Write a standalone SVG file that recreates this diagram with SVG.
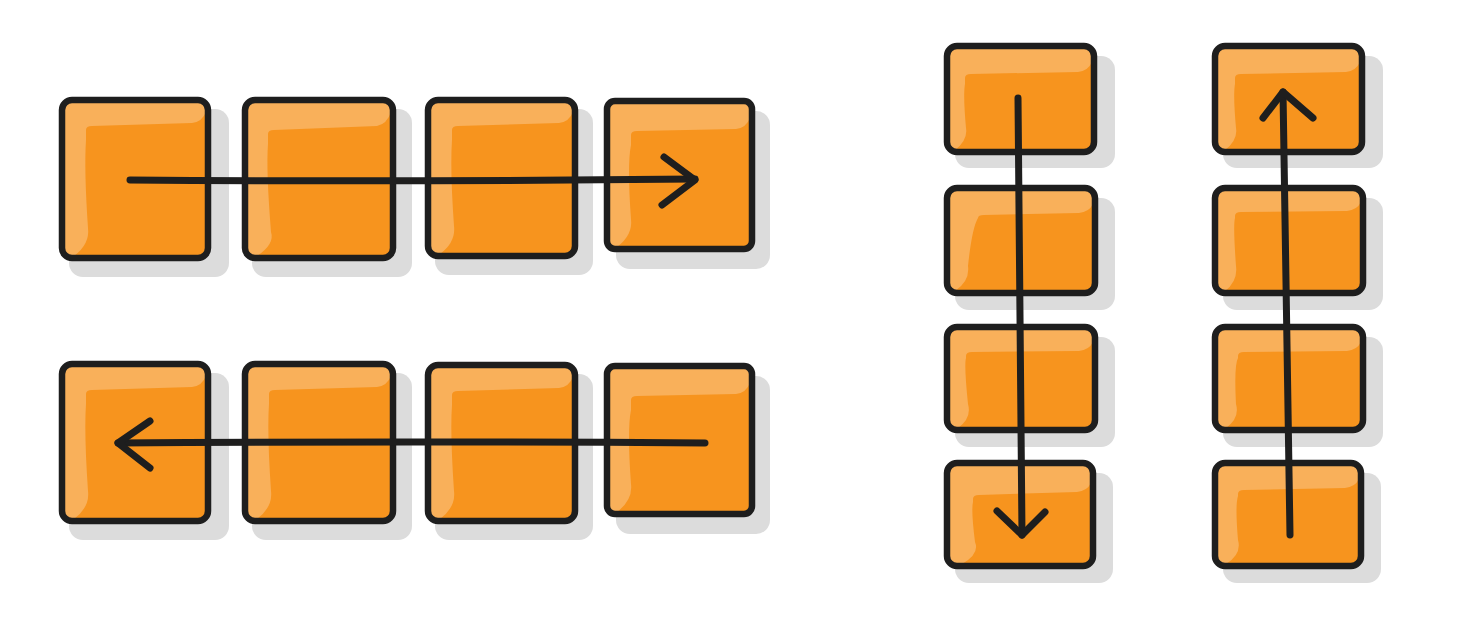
<svg xmlns="http://www.w3.org/2000/svg" width="1471" height="628" viewBox="0 0 1471 628">
<style>
.sh{fill:#dcdcdc}
.lt{fill:#f9b05a}
.dk{fill:#f7941e}
.ol{fill:none;stroke:#1e1e1e;stroke-width:6.5;stroke-linejoin:round}
.cn{fill:none;stroke:#1e1e1e;stroke-width:7;stroke-linecap:round;stroke-linejoin:round}
</style>
<rect width="1471" height="628" fill="#ffffff"/>
<!-- row 1 -->
<g id="r1b1"><rect class="sh" x="69" y="109" width="160" height="168" rx="14"/><rect class="lt" x="62" y="100" width="146" height="158" rx="10"/><path class="dk" d="M86,130 Q86,126 92,126 L192,123 Q202,122 206,112 L206,250 Q206,256 198,256 L74,256 Q90,244 88,228 Q84,170 86,140 Z"/><rect class="ol" x="62" y="100" width="146" height="158" rx="10"/></g>
<g id="r1b2"><rect class="sh" x="252" y="109" width="160" height="168" rx="14"/><rect class="lt" x="245" y="100" width="148" height="158" rx="10"/><path class="dk" d="M268,134 Q268,130 274,130 L377,126 Q387,124 391,112 L391,250 Q391,256 383,256 L257,256 Q275,244 271,232 Q266,170 268,144 Z"/><rect class="ol" x="245" y="100" width="148" height="158" rx="10"/></g>
<g id="r1b3"><rect class="sh" x="435" y="109" width="158" height="166" rx="14"/><rect class="lt" x="428" y="100" width="147" height="156" rx="10"/><path class="dk" d="M452,130 Q452,126 458,126 L559,123 Q569,122 573,112 L573,248 Q573,254 565,254 L440,254 Q456,242 454,226 Q450,170 452,140 Z"/><rect class="ol" x="428" y="100" width="147" height="156" rx="10"/></g>
<g id="r1b4"><rect class="sh" x="616" y="111" width="154" height="158" rx="14"/><rect class="lt" x="607" y="101" width="145" height="148" rx="8"/><path class="dk" d="M631,135 Q631,131 637,131 L736,129 Q746,128 750,118 L750,241 Q750,247 742,247 L617,247 Q633,235 631,219 Q627,165 631,145 Z"/><rect class="ol" x="607" y="101" width="145" height="148" rx="8"/></g>
<!-- row 2 -->
<g id="r2b1"><rect class="sh" x="69" y="373" width="160" height="167" rx="14"/><rect class="lt" x="62" y="364" width="146" height="157" rx="10"/><path class="dk" d="M86,394 Q86,390 92,390 L192,387 Q202,386 206,376 L206,513 Q206,519 198,519 L74,519 Q90,507 88,491 Q84,433 86,404 Z"/><rect class="ol" x="62" y="364" width="146" height="157" rx="10"/></g>
<g id="r2b2"><rect class="sh" x="252" y="373" width="160" height="167" rx="14"/><rect class="lt" x="245" y="364" width="148" height="157" rx="10"/><path class="dk" d="M269,394 Q269,390 275,390 L377,387 Q387,386 391,376 L391,513 Q391,519 383,519 L257,519 Q273,507 271,491 Q267,433 269,404 Z"/><rect class="ol" x="245" y="364" width="148" height="157" rx="10"/></g>
<g id="r2b3"><rect class="sh" x="435" y="374" width="158" height="166" rx="14"/><rect class="lt" x="428" y="365" width="147" height="156" rx="10"/><path class="dk" d="M452,395 Q452,391 458,391 L559,388 Q569,387 573,377 L573,513 Q573,519 565,519 L440,519 Q456,507 454,491 Q450,433 452,405 Z"/><rect class="ol" x="428" y="365" width="147" height="156" rx="10"/></g>
<g id="r2b4"><rect class="sh" x="616" y="376" width="154" height="158" rx="14"/><rect class="lt" x="607" y="366" width="145" height="148" rx="8"/><path class="dk" d="M631,400 Q631,396 637,396 L736,394 Q746,393 750,383 L750,506 Q750,512 742,512 L617,512 Q633,500 631,484 Q627,430 631,410 Z"/><rect class="ol" x="607" y="366" width="145" height="148" rx="8"/></g>
<!-- column 1 -->
<g id="c1b1"><rect class="sh" x="955" y="56" width="160" height="112" rx="14"/><rect class="lt" x="947" y="46" width="147" height="106" rx="10"/><path class="dk" d="M965,78 Q965,74 971,74 L1078,72 Q1088,71 1092,62 L1092,144 Q1092,150 1084,150 L955,150 Q968,140 966,128 Q963,95 965,84 Z"/><rect class="ol" x="947" y="46" width="147" height="106" rx="10"/></g>
<g id="c1b2"><rect class="sh" x="955" y="198" width="160" height="112" rx="14"/><rect class="lt" x="947" y="188" width="148" height="105" rx="10"/><path class="dk" d="M978,218 Q978,215 984,215 L1079,213 Q1089,212 1093,204 L1093,285 Q1093,291 1085,291 L955,291 Q970,281 968,266 Q972,228 978,218 Z"/><rect class="ol" x="947" y="188" width="148" height="105" rx="10"/></g>
<g id="c1b3"><rect class="sh" x="955" y="337" width="160" height="110" rx="14"/><rect class="lt" x="947" y="327" width="148" height="103" rx="10"/><path class="dk" d="M966,356 Q966,352 972,352 L1079,351 Q1089,350 1093,342 L1093,422 Q1093,428 1085,428 L958,428 Q972,418 968,404 Q964,365 966,358 Z"/><rect class="ol" x="947" y="327" width="148" height="103" rx="10"/></g>
<g id="c1b4"><rect class="sh" x="955" y="473" width="158" height="110" rx="14"/><rect class="lt" x="947" y="463" width="146" height="103" rx="10"/><path class="dk" d="M973,499 Q973,495 979,495 L1077,492 Q1087,491 1091,483 L1091,558 Q1091,564 1083,564 L962,564 Q980,554 975,542 Q971,510 973,502 Z"/><rect class="ol" x="947" y="463" width="146" height="103" rx="10"/></g>
<!-- column 2 -->
<g id="c2b1"><rect class="sh" x="1223" y="56" width="160" height="112" rx="14"/><rect class="lt" x="1215" y="46" width="147" height="106" rx="10"/><path class="dk" d="M1235,78 Q1235,74 1241,74 L1346,72 Q1356,71 1360,62 L1360,144 Q1360,150 1352,150 L1225,150 Q1238,140 1236,128 Q1233,95 1235,84 Z"/><rect class="ol" x="1215" y="46" width="147" height="106" rx="10"/></g>
<g id="c2b2"><rect class="sh" x="1223" y="198" width="160" height="112" rx="14"/><rect class="lt" x="1215" y="188" width="148" height="105" rx="10"/><path class="dk" d="M1235,216 Q1235,212 1241,212 L1347,211 Q1357,210 1361,202 L1361,285 Q1361,291 1353,291 L1225,291 Q1238,281 1236,266 Q1233,225 1235,218 Z"/><rect class="ol" x="1215" y="188" width="148" height="105" rx="10"/></g>
<g id="c2b3"><rect class="sh" x="1223" y="337" width="160" height="110" rx="14"/><rect class="lt" x="1215" y="327" width="148" height="103" rx="10"/><path class="dk" d="M1238,356 Q1238,352 1244,352 L1347,351 Q1357,350 1361,342 L1361,422 Q1361,428 1353,428 L1226,428 Q1240,418 1236,404 Q1234,365 1238,358 Z"/><rect class="ol" x="1215" y="327" width="148" height="103" rx="10"/></g>
<g id="c2b4"><rect class="sh" x="1223" y="473" width="158" height="110" rx="14"/><rect class="lt" x="1215" y="463" width="146" height="103" rx="10"/><path class="dk" d="M1238,494 Q1238,490 1244,490 L1345,488 Q1355,487 1359,479 L1359,558 Q1359,564 1351,564 L1226,564 Q1242,554 1238,540 Q1235,505 1238,496 Z"/><rect class="ol" x="1215" y="463" width="146" height="103" rx="10"/></g>
<!-- connectors -->
<g id="connectors">
<path class="cn" d="M130,180 Q400,182 695,179"/><path class="cn" d="M664,157 L695,180 L662,205"/>
<path class="cn" d="M705,443 Q400,441 118,443"/><path class="cn" d="M150,421 L118,443 L150,468"/>
<path class="cn" d="M1018,98 Q1020,320 1022,535"/><path class="cn" d="M997,511 L1022,535 L1045,512"/>
<path class="cn" d="M1290,535 Q1286,310 1283,92"/><path class="cn" d="M1263,118 L1283,92 L1313,118"/>
</g>
</svg>
